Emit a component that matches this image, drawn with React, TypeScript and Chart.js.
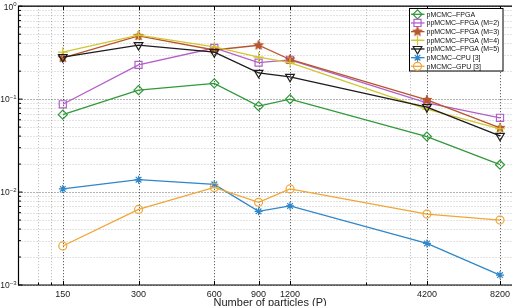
import React, { useEffect, useRef } from 'react';
import { Chart, registerables } from 'chart.js';
import { drawPoint } from 'chart.js/helpers';

Chart.register(...registerables);

// Particle counts on the x axis (log scale)
const particles = [150, 300, 600, 900, 1200, 4200, 8200];
const xTickLabels = ['150', '300', '600', '900', '1200', '4200', '8200'];
const xMinorLines = [120, 135, 2400, 3600];
const xRange = [100, 10000];

// Decades on the y axis (log scale)
const yDecades = [0.001, 0.01, 0.1, 1];
const yExponents = ['\u22123', '\u22122', '\u22121', '0'];
const yMinorSteps = [2, 3, 4, 5, 6, 7, 8, 9];

// Series values
const pmcmcFpga = [0.068, 0.125, 0.148, 0.084, 0.1, 0.0396, 0.0197];
const ppmcmcM2 = [0.088, 0.234, 0.355, 0.247, 0.265, 0.091, 0.063];
const ppmcmcM3 = [0.278, 0.479, 0.338, 0.38, 0.267, 0.098, 0.049];
const ppmcmcM4 = [0.32, 0.488, 0.366, 0.283, 0.247, 0.078, 0.048];
const ppmcmcM5 = [0.283, 0.382, 0.32, 0.192, 0.174, 0.082, 0.0403];
const pmcmcCpu = [0.0108, 0.0136, 0.0121, 0.0062, 0.0071, 0.0028, 0.00128];
const pmcmcGpu = [0.00263, 0.0065, 0.0112, 0.00775, 0.0108, 0.0058, 0.005];

const seriesLabels = [
  'pMCMC\u2013FPGA',
  'ppMCMC\u2013FPGA (M=2)',
  'ppMCMC\u2013FPGA (M=3)',
  'ppMCMC\u2013FPGA (M=4)',
  'ppMCMC\u2013FPGA (M=5)',
  'pMCMC\u2013CPU [3]',
  'pMCMC\u2013GPU [3]',
];
const seriesValues = [pmcmcFpga, ppmcmcM2, ppmcmcM3, ppmcmcM4, ppmcmcM5, pmcmcCpu, pmcmcGpu];
const seriesColors = ['#30993a', '#b35fca', '#b8552c', '#d1c630', '#1c1c1c', '#2f86c8', '#f0a636'];

const FONT = '"Liberation Sans", Arial, Helvetica, sans-serif';

function makePentagram(color: string, r: number): HTMLCanvasElement {
  const size = Math.ceil(r * 2 + 2);
  const c = document.createElement('canvas');
  c.width = size;
  c.height = size;
  const g = c.getContext('2d')!;
  g.beginPath();
  for (let i = 0; i < 10; i++) {
    const rad = i % 2 === 0 ? r : r * 0.42;
    const ang = -Math.PI / 2 + (i * Math.PI) / 5;
    g.lineTo(size / 2 + rad * Math.cos(ang), size / 2 + rad * Math.sin(ang));
  }
  g.closePath();
  g.fillStyle = color;
  g.fill();
  g.strokeStyle = color;
  g.lineWidth = 1;
  g.stroke();
  return c;
}

type MarkerSpec = { style: any; radius: number; rotation: number };

function markers(): MarkerSpec[] {
  return [
    { style: 'rectRot', radius: 4.5, rotation: 0 },
    { style: 'rect', radius: 5, rotation: 0 },
    { style: makePentagram(seriesColors[2], 5), radius: 5, rotation: 0 },
    { style: 'cross', radius: 5, rotation: 0 },
    { style: 'triangle', radius: 5, rotation: 180 },
    { style: 'star', radius: 4, rotation: 0 },
    { style: 'circle', radius: 4, rotation: 0 },
  ];
}

const gridPlugin = {
  id: 'matlabGrid',
  beforeDatasetsDraw(chart: any) {
    const { ctx, chartArea: a, scales } = chart;
    const x = scales.x;
    const y = scales.y;
    ctx.save();
    ctx.lineWidth = 1;
    ctx.setLineDash([1, 2]);

    const hLine = (v: number, color: string) => {
      const py = Math.round(y.getPixelForValue(v)) + 0.5;
      ctx.strokeStyle = color;
      ctx.beginPath();
      ctx.moveTo(a.left, py);
      ctx.lineTo(a.right, py);
      ctx.stroke();
    };
    const vLine = (v: number, color: string) => {
      const px = Math.round(x.getPixelForValue(v)) + 0.5;
      ctx.strokeStyle = color;
      ctx.beginPath();
      ctx.moveTo(px, a.top);
      ctx.lineTo(px, a.bottom);
      ctx.stroke();
    };

    yDecades.forEach((d, i) => {
      if (i < yDecades.length - 1) yMinorSteps.forEach((m) => hLine(d * m, 'rgba(0,0,0,0.22)'));
    });
    yDecades.forEach((d) => hLine(d, 'rgba(0,0,0,0.6)'));
    xMinorLines.forEach((v) => vLine(v, 'rgba(0,0,0,0.3)'));
    particles.forEach((v) => vLine(v, 'rgba(0,0,0,0.75)'));
    ctx.restore();
  },
  afterDraw(chart: any) {
    const { ctx, chartArea: a, scales } = chart;
    const x = scales.x;
    const y = scales.y;
    ctx.save();

    // axes box (left, bottom, top)
    ctx.strokeStyle = '#000';
    ctx.lineWidth = 1.2;
    ctx.beginPath();
    ctx.moveTo(a.right + 2, a.top);
    ctx.lineTo(a.left, a.top);
    ctx.lineTo(a.left, a.bottom);
    ctx.lineTo(a.right + 2, a.bottom);
    ctx.stroke();

    // inward tick marks
    ctx.lineWidth = 1;
    ctx.beginPath();
    yDecades.forEach((d, i) => {
      const py = y.getPixelForValue(d);
      ctx.moveTo(a.left, py);
      ctx.lineTo(a.left + 4, py);
      if (i < yDecades.length - 1) {
        yMinorSteps.forEach((m) => {
          const pm = y.getPixelForValue(d * m);
          ctx.moveTo(a.left, pm);
          ctx.lineTo(a.left + 2.5, pm);
        });
      }
    });
    particles.forEach((v) => {
      const px = Math.round(x.getPixelForValue(v)) + 0.5;
      ctx.moveTo(px, a.bottom);
      ctx.lineTo(px, a.bottom - 4);
      ctx.moveTo(px, a.top);
      ctx.lineTo(px, a.top + 4);
    });
    xMinorLines.forEach((v) => {
      const px = Math.round(x.getPixelForValue(v)) + 0.5;
      ctx.moveTo(px, a.bottom);
      ctx.lineTo(px, a.bottom - 2.5);
    });
    ctx.stroke();

    // x tick labels
    ctx.fillStyle = '#222';
    ctx.font = `9px ${FONT}`;
    ctx.textAlign = 'center';
    ctx.textBaseline = 'alphabetic';
    particles.forEach((v, i) => {
      ctx.fillText(xTickLabels[i], x.getPixelForValue(v), a.bottom + 11.5);
    });

    // x axis title
    ctx.font = `11px ${FONT}`;
    ctx.fillText('Number of particles (P)', (a.left + a.right) / 2, 306.3);

    // y tick labels: 10 with superscript exponent
    yDecades.forEach((d, i) => {
      const py = y.getPixelForValue(d);
      ctx.textAlign = 'right';
      ctx.font = `6px ${FONT}`;
      const supRight = a.left - 2;
      ctx.fillText(yExponents[i], supRight, py - 0.5);
      const supW = ctx.measureText(yExponents[i]).width;
      ctx.font = `8.5px ${FONT}`;
      ctx.fillText('10', supRight - supW, py + 3.3);
    });

    // legend box
    const lx = 409.5;
    const ly = 8.5;
    const lw = 93.5;
    const lh = 62.5;
    ctx.fillStyle = '#fff';
    ctx.fillRect(lx, ly, lw, lh);
    ctx.strokeStyle = '#000';
    ctx.lineWidth = 1;
    ctx.strokeRect(lx, ly, lw, lh);

    const ms = markers();
    seriesLabels.forEach((label, i) => {
      const cy = 14.3 + i * 8.67;
      ctx.strokeStyle = seriesColors[i];
      ctx.lineWidth = 1.3;
      ctx.beginPath();
      ctx.moveTo(lx + 1.5, cy);
      ctx.lineTo(lx + 15, cy);
      ctx.stroke();
      ctx.fillStyle = 'rgba(0,0,0,0)';
      ctx.lineWidth = 1.2;
      drawPoint(ctx, { pointStyle: ms[i].style, rotation: ms[i].rotation, radius: ms[i].radius, borderWidth: 1.2 } as any, lx + 8, cy);
      ctx.fillStyle = '#111';
      ctx.font = `7px ${FONT}`;
      ctx.textAlign = 'left';
      ctx.textBaseline = 'middle';
      ctx.fillText(label, lx + 17, cy + 0.3);
      ctx.textBaseline = 'alphabetic';
    });

    ctx.restore();
  },
};

export default function App() {
  const ref = useRef<HTMLCanvasElement>(null);

  useEffect(() => {
    document.body.style.margin = '0';
    const canvas = ref.current;
    if (!canvas) return;
    const ms = markers();
    const datasets = seriesValues.map((vals, i) => ({
      label: seriesLabels[i],
      data: particles.map((p, j) => ({ x: p, y: vals[j] })),
      borderColor: seriesColors[i],
      backgroundColor: 'rgba(0,0,0,0)',
      borderWidth: 1.3,
      pointStyle: ms[i].style,
      pointRadius: ms[i].radius,
      pointRotation: ms[i].rotation,
      pointBorderWidth: 1.2,
      pointBorderColor: seriesColors[i],
      pointBackgroundColor: 'rgba(0,0,0,0)',
      tension: 0,
      order: seriesValues.length - i,
    }));

    const chart = new Chart(canvas, {
      type: 'line',
      data: { datasets },
      options: {
        animation: false,
        responsive: false,
        devicePixelRatio: 1,
        layout: { padding: { left: 18.5, right: 8.3, top: 1.5, bottom: 21 } },
        plugins: { legend: { display: false }, tooltip: { enabled: false } },
        scales: {
          x: { type: 'logarithmic', min: xRange[0], max: xRange[1], display: false },
          y: { type: 'logarithmic', min: yDecades[0], max: yDecades[yDecades.length - 1], display: false },
        },
      },
      plugins: [gridPlugin],
    } as any);

    return () => chart.destroy();
  }, []);

  return (
    <div style={{ position: 'fixed', left: 0, top: 0, width: 512, height: 306, overflow: 'hidden', background: '#fff' }}>
      <canvas ref={ref} width={530} height={306} style={{ display: 'block', width: 530, height: 306 }} />
    </div>
  );
}
